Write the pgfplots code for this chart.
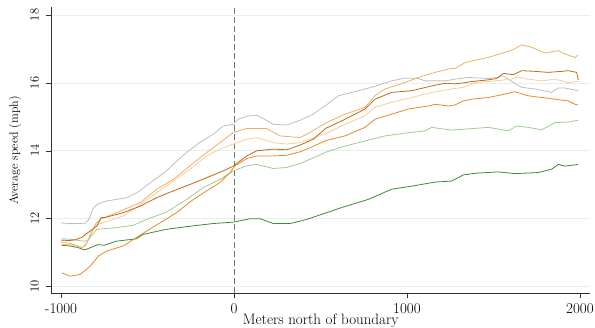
\documentclass[border=0pt]{standalone}
\usepackage{pgfplots}
\pgfplotsset{compat=1.18}
\definecolor{cgray}{HTML}{BEBEBE}
\definecolor{csandy}{HTML}{F2AE64}
\definecolor{cdkor}{HTML}{BF6912}
\definecolor{corange}{HTML}{E8892A}
\definecolor{ctan}{HTML}{F8CB9C}
\definecolor{cltgreen}{HTML}{9FCB95}
\definecolor{cdkgreen}{HTML}{3A8A38}
\definecolor{cgrid}{HTML}{E6EEEE}
\definecolor{caxis}{HTML}{333333}
\begin{document}
\begin{tikzpicture}
\path[use as bounding box] (-51.5pt,-34.7pt) rectangle (543.5pt,293.3pt);
\begin{axis}[
  at={(0,0)}, anchor=south west,
  scale only axis, width=538.5pt, height=285.8pt,
  xmin=-1055, xmax=2058, ymin=9.806, ymax=18.22,
  axis lines*=left,
  axis line style={-, color=caxis, line width=0.7pt},
  xtick={-1000,0,1000,2000}, xticklabels={-1000,0,1000,2000},
  ytick={10,12,14,16,18}, yticklabels={10,12,14,16,18},
  tick align=outside, major tick length=5pt,
  tick style={color=caxis, line width=0.6pt},
  ymajorgrids, grid style={color=cgrid, line width=0.7pt},
  xticklabel style={font=\fontsize{15}{17}\selectfont},
  yticklabel style={font=\fontsize{12.5}{14}\selectfont, rotate=90, anchor=south},
  yticklabel shift=4pt, xticklabel shift=1.5pt,
  xlabel={Meters north of boundary},
  ylabel={Average speed (mph)},
  xlabel style={font=\fontsize{15}{17}\selectfont, at={(axis description cs:0.5,-0.0959)}, anchor=center},
  ylabel style={font=\fontsize{12}{14}\selectfont, at={(axis description cs:-0.0678,0.5)}, anchor=center},
  every axis plot/.append style={line width=0.8pt, mark=none},
  clip=false,
]
\addplot[color=black!55, dash pattern=on 6pt off 3pt, line width=0.7pt] coordinates {(0,9.806)(0,18.22)};
\addplot[cgray] coordinates {(-1000,11.88)(-960,11.86)(-900,11.86)(-860,11.87)(-840,11.97)(-815,12.30)(-790,12.43)(-740,12.52)(-680,12.57)(-620,12.62)(-560,12.77)(-470,13.11)(-390,13.41)(-330,13.70)(-275,13.95)(-200,14.24)(-120,14.49)(-62,14.73)(-4,14.78)(25,14.93)(75,15.02)(130,15.05)(180,14.92)(227,14.78)(305,14.76)(382,14.9)(458,15.08)(526,15.32)(603,15.62)(719,15.77)(815,15.90)(911,16.06)(988,16.14)(1065,16.13)(1104,16.06)(1220,16.06)(1277,16.11)(1354,16.16)(1470,16.13)(1528,16.16)(1557,16.21)(1614,16.01)(1663,15.87)(1740,15.82)(1836,15.72)(1875,15.85)(1913,15.85)(1990,15.77)};
\addplot[cltgreen] coordinates {(-996,11.41)(-950,11.40)(-871,11.34)(-845,11.36)(-794,11.69)(-678,11.74)(-582,11.81)(-505,11.98)(-389,12.20)(-273,12.57)(-177,12.92)(-81,13.16)(-4,13.41)(73,13.56)(131,13.60)(227,13.48)(305,13.51)(382,13.63)(439,13.75)(536,13.97)(642,14.14)(757,14.29)(873,14.44)(988,14.52)(1104,14.59)(1143,14.69)(1258,14.61)(1470,14.69)(1586,14.59)(1634,14.73)(1701,14.69)(1779,14.62)(1855,14.83)(1932,14.85)(1990,14.90)};
\addplot[cdkgreen] coordinates {(-996,11.22)(-950,11.20)(-900,11.15)(-864,11.08)(-830,11.15)(-787,11.24)(-750,11.22)(-680,11.34)(-564,11.41)(-526,11.54)(-390,11.69)(-255,11.78)(-120,11.86)(-4,11.90)(93,12.00)(151,12.00)(228,11.86)(325,11.86)(420,11.98)(536,12.18)(622,12.33)(776,12.57)(911,12.87)(1027,12.96)(1162,13.08)(1258,13.11)(1326,13.29)(1393,13.34)(1528,13.38)(1624,13.33)(1759,13.36)(1836,13.46)(1875,13.60)(1913,13.55)(1990,13.60)};
\addplot[ctan] coordinates {(-1000,11.24)(-950,11.25)(-900,11.18)(-880,11.15)(-850,11.30)(-830,11.59)(-800,11.80)(-755,11.89)(-640,12.08)(-543,12.42)(-447,12.77)(-351,13.11)(-254,13.46)(-158,13.85)(-81,14.05)(-4,14.20)(73,14.34)(131,14.39)(227,14.24)(305,14.20)(382,14.24)(536,14.52)(642,14.78)(757,15.03)(815,15.28)(911,15.43)(1027,15.57)(1143,15.72)(1258,15.82)(1326,15.87)(1393,16.01)(1509,16.06)(1605,16.11)(1634,16.18)(1701,16.11)(1779,16.06)(1855,16.11)(1932,16.01)(1990,16.04)};
\addplot[corange] coordinates {(-996,10.41)(-948,10.31)(-890,10.36)(-832,10.60)(-784,10.90)(-736,11.05)(-640,11.20)(-582,11.39)(-505,11.64)(-428,11.88)(-332,12.18)(-235,12.57)(-158,12.82)(-81,13.07)(-23,13.36)(6,13.56)(73,13.77)(131,13.85)(227,13.85)(305,13.87)(382,13.97)(420,14.05)(530,14.30)(642,14.44)(757,14.69)(815,14.93)(911,15.08)(1008,15.23)(1123,15.32)(1162,15.37)(1239,15.32)(1277,15.35)(1326,15.47)(1374,15.52)(1470,15.57)(1566,15.67)(1624,15.74)(1701,15.62)(1779,15.57)(1855,15.52)(1932,15.47)(1971,15.37)(1990,15.35)};
\addplot[csandy] coordinates {(-1000,11.30)(-950,11.28)(-900,11.20)(-880,11.15)(-860,11.20)(-830,11.50)(-800,11.85)(-775,11.98)(-678,12.18)(-600,12.35)(-543,12.47)(-447,12.87)(-351,13.16)(-254,13.56)(-158,13.95)(-81,14.24)(-4,14.54)(73,14.66)(189,14.66)(266,14.44)(382,14.39)(439,14.54)(526,14.81)(642,15.08)(757,15.28)(815,15.62)(873,15.82)(988,16.01)(1065,16.16)(1162,16.31)(1258,16.43)(1277,16.42)(1326,16.57)(1335,16.60)(1470,16.75)(1566,16.90)(1624,17.00)(1663,17.12)(1721,17.05)(1798,16.88)(1875,16.95)(1913,16.85)(1971,16.75)(1990,16.82)};
\addplot[cdkor] coordinates {(-1000,11.37)(-950,11.36)(-920,11.38)(-880,11.45)(-845,11.59)(-794,11.78)(-767,12.03)(-736,12.05)(-640,12.18)(-543,12.37)(-447,12.62)(-351,12.82)(-254,13.01)(-158,13.21)(-62,13.41)(-4,13.55)(73,13.85)(131,14.00)(227,14.05)(305,14.03)(382,14.17)(458,14.34)(530,14.66)(642,14.93)(757,15.23)(815,15.52)(911,15.72)(1027,15.77)(1143,15.91)(1220,15.99)(1277,15.97)(1326,16.00)(1374,16.04)(1470,16.09)(1518,16.13)(1557,16.28)(1614,16.24)(1663,16.36)(1740,16.34)(1817,16.31)(1894,16.34)(1932,16.36)(1981,16.31)(1990,16.09)};
\end{axis}
\end{tikzpicture}
\end{document}
